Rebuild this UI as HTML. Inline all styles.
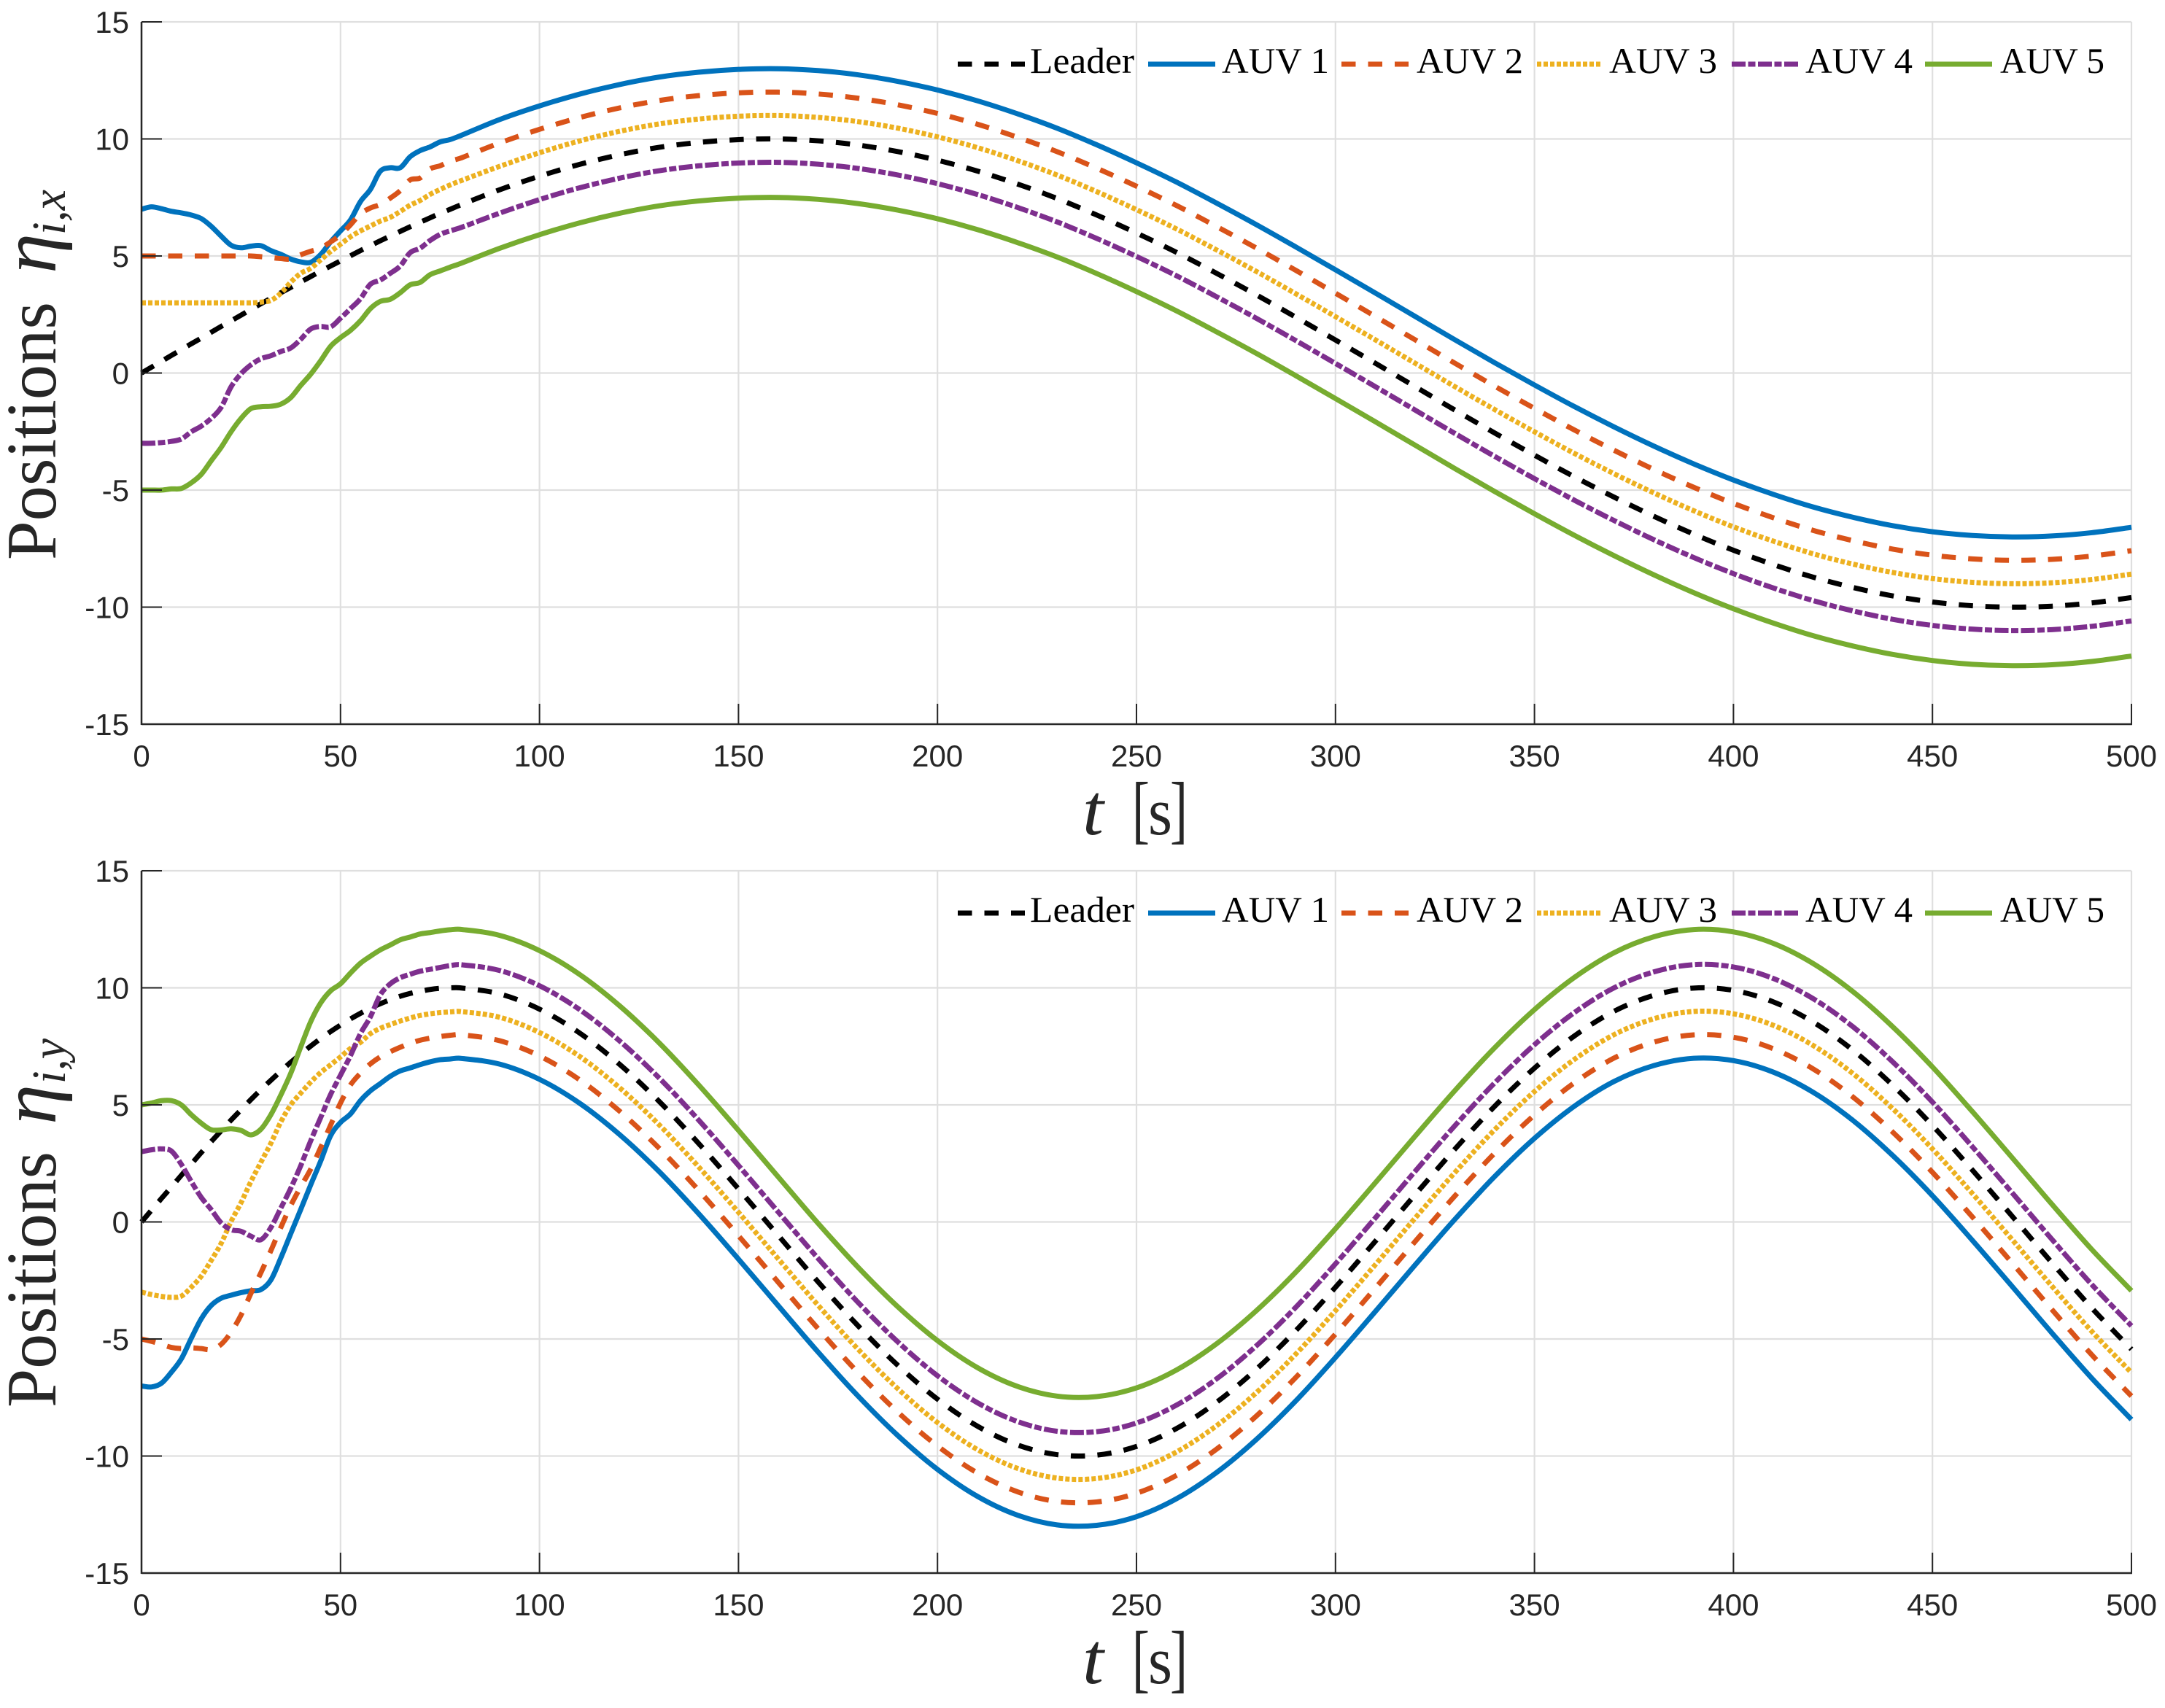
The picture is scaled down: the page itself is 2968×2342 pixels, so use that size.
<!DOCTYPE html>
<html lang="en">
<head>
<meta charset="utf-8">
<title>Positions of leader and AUVs</title>
<style>
html,body{margin:0;padding:0;background:#fff;width:2968px;height:2342px;overflow:hidden}
svg{display:block}
.tick{font-family:"Liberation Sans",sans-serif;font-size:42px;fill:#262626}
.serif{font-family:"Liberation Serif",serif;fill:#262626}
.legend-text{font-family:"Liberation Serif",serif;font-size:50px;fill:#000}
</style>
</head>
<body>
<svg id="chart" xmlns="http://www.w3.org/2000/svg" width="2968" height="2342" viewBox="0 0 2968 2342">
  <rect width="2968" height="2342" fill="#fff"/>
  <g id="panel-x"></g>
  <g id="panel-y"></g>

  <g transform="translate(76,768) rotate(-90)">
    <text class="serif" font-size="98" x="0" y="0" textLength="354" lengthAdjust="spacingAndGlyphs">Positions</text>
    <text class="serif" font-size="108" font-style="italic" x="393" y="0" textLength="55" lengthAdjust="spacingAndGlyphs">η</text>
    <text class="serif" font-size="66" font-style="italic" x="446" y="13" textLength="62" lengthAdjust="spacingAndGlyphs">i,x</text>
  </g>
  <g>
    <text class="serif" font-size="100" font-style="italic" x="1484" y="1144" textLength="29" lengthAdjust="spacingAndGlyphs">t</text>
    <text class="serif" font-size="104" x="1552" y="1144" textLength="24" lengthAdjust="spacingAndGlyphs">[</text>
    <text class="serif" font-size="92" x="1574" y="1144" textLength="33" lengthAdjust="spacingAndGlyphs">s</text>
    <text class="serif" font-size="104" x="1604" y="1144" textLength="24" lengthAdjust="spacingAndGlyphs">]</text>
  </g>

  <g transform="translate(76,1930) rotate(-90)">
    <text class="serif" font-size="98" x="0" y="0" textLength="351" lengthAdjust="spacingAndGlyphs">Positions</text>
    <text class="serif" font-size="108" font-style="italic" x="388" y="0" textLength="55" lengthAdjust="spacingAndGlyphs">η</text>
    <text class="serif" font-size="66" font-style="italic" x="444" y="13" textLength="62" lengthAdjust="spacingAndGlyphs">i,y</text>
  </g>
  <g>
    <text class="serif" font-size="100" font-style="italic" x="1484" y="2308" textLength="29" lengthAdjust="spacingAndGlyphs">t</text>
    <text class="serif" font-size="104" x="1552" y="2308" textLength="24" lengthAdjust="spacingAndGlyphs">[</text>
    <text class="serif" font-size="92" x="1574" y="2308" textLength="33" lengthAdjust="spacingAndGlyphs">s</text>
    <text class="serif" font-size="104" x="1604" y="2308" textLength="24" lengthAdjust="spacingAndGlyphs">]</text>
  </g>
</svg>
<script>
const xTickLabels = [0,50,100,150,200,250,300,350,400,450,500];
const yTickLabels = [15,10,5,0,-5,-10,-15];
const seriesNames = ["Leader","AUV 1","AUV 2","AUV 3","AUV 4","AUV 5"];

const times = [0,2.5,5,7.5,10,12.5,15,17.5,20,22.5,25,27.5,30,32.5,35,37.5,40,42.5,45,47.5,50,52.5,55,57.5,60,62.5,65,67.5,70,72.5,75,77.5,80,
90,100,110,120,130,140,150,160,170,180,190,200,210,220,230,240,250,260,270,280,290,300,310,320,330,340,350,360,370,380,390,400,410,420,430,440,450,460,470,480,490,500];

const xLeader = [0,0.25,0.5,0.75,1,1.25,1.49,1.74,1.99,2.23,2.47,2.72,2.96,3.19,3.43,3.66,3.89,4.12,4.35,4.57,4.79,5.01,5.23,5.44,5.65,5.85,6.05,6.25,6.44,6.63,6.82,6.99,7.17,
7.83,8.41,8.91,9.32,9.64,9.85,9.97,10,9.92,9.74,9.46,9.09,8.63,8.08,7.46,6.75,5.98,5.16,4.27,3.35,2.39,1.41,0.42,-0.58,-1.58,-2.56,-3.51,-4.43,-5.3,-6.12,-6.88,-7.57,-8.18,-8.72,-9.16,-9.52,-9.78,-9.94,-10,-9.96,-9.82,-9.59];
const xAuv1 = [7,7.1,7.02,6.91,6.84,6.75,6.6,6.27,5.85,5.46,5.35,5.42,5.44,5.23,5.07,4.87,4.75,4.73,5.06,5.6,6.07,6.54,7.32,7.84,8.62,8.77,8.77,9.24,9.5,9.66,9.87,9.97,10.13,
10.83,11.41,11.91,12.32,12.64,12.85,12.97,13,12.92,12.74,12.46,12.09,11.63,11.08,10.46,9.75,8.98,8.16,7.27,6.35,5.39,4.41,3.42,2.42,1.42,0.44,-0.51,-1.43,-2.3,-3.12,-3.88,-4.57,-5.18,-5.72,-6.16,-6.52,-6.78,-6.94,-7,-6.96,-6.82,-6.59];
const xAuv2 = [5,5,5,5,5,5,5,5,5,5,5,5,4.97,4.93,4.89,4.87,5.05,5.2,5.33,5.6,5.9,6.33,6.8,7.05,7.2,7.47,7.79,8.25,8.33,8.72,8.85,9.05,9.17,
9.83,10.41,10.91,11.32,11.64,11.85,11.97,12,11.92,11.74,11.46,11.09,10.63,10.08,9.46,8.75,7.98,7.16,6.27,5.35,4.39,3.41,2.42,1.42,0.42,-0.56,-1.51,-2.43,-3.3,-4.12,-4.88,-5.57,-6.18,-6.72,-7.16,-7.52,-7.78,-7.94,-8,-7.96,-7.82,-7.59];
const xAuv3 = [3,3,3,3,3,3,3,3,3,3,3,3,3.03,3.1,3.41,3.88,4.26,4.47,4.83,5.19,5.5,5.82,6.07,6.28,6.49,6.65,6.9,7.17,7.37,7.63,7.84,8.03,8.2,
8.83,9.41,9.91,10.32,10.64,10.85,10.97,11,10.92,10.74,10.46,10.09,9.63,9.08,8.46,7.75,6.98,6.16,5.27,4.35,3.39,2.41,1.42,0.42,-0.58,-1.56,-2.51,-3.43,-4.3,-5.12,-5.88,-6.57,-7.18,-7.72,-8.16,-8.52,-8.78,-8.94,-9,-8.96,-8.82,-8.59];
const xAuv4 = [-3,-3,-2.97,-2.92,-2.82,-2.51,-2.27,-1.94,-1.47,-0.59,-0.03,0.35,0.61,0.74,0.92,1.07,1.44,1.88,1.99,1.97,2.34,2.75,3.17,3.79,3.97,4.26,4.57,5.14,5.33,5.66,5.92,6.07,6.2,
6.83,7.41,7.91,8.32,8.64,8.85,8.97,9,8.92,8.74,8.46,8.09,7.63,7.08,6.46,5.75,4.98,4.16,3.27,2.35,1.39,0.41,-0.58,-1.58,-2.58,-3.56,-4.51,-5.43,-6.3,-7.12,-7.88,-8.57,-9.18,-9.72,-10.16,-10.52,-10.78,-10.94,-11,-10.96,-10.82,-10.59];
const xAuv5 = [-5,-5,-5,-4.95,-4.93,-4.69,-4.33,-3.75,-3.18,-2.51,-1.94,-1.52,-1.44,-1.42,-1.33,-1.05,-0.53,-0.05,0.52,1.14,1.51,1.82,2.23,2.75,3.06,3.15,3.43,3.77,3.87,4.2,4.36,4.52,4.67,
5.33,5.91,6.41,6.82,7.14,7.35,7.47,7.5,7.42,7.24,6.96,6.59,6.13,5.58,4.96,4.25,3.48,2.66,1.77,0.85,-0.11,-1.09,-2.08,-3.08,-4.08,-5.06,-6.01,-6.93,-7.8,-8.62,-9.38,-10.07,-10.68,-11.22,-11.66,-12.02,-12.28,-12.44,-12.5,-12.46,-12.32,-12.09];

const yLeader = [0,0.5,1,1.49,1.99,2.47,2.96,3.43,3.89,4.35,4.79,5.23,5.65,6.05,6.44,6.82,7.17,7.51,7.83,8.13,8.41,8.67,8.91,9.13,9.32,9.49,9.64,9.76,9.85,9.93,9.98,10,10,
9.74,9.09,8.08,6.75,5.16,3.35,1.41,-0.58,-2.56,-4.43,-6.12,-7.57,-8.72,-9.52,-9.94,-9.96,-9.59,-8.83,-7.72,-6.31,-4.65,-2.79,-0.83,1.16,3.11,4.94,6.57,7.94,9,9.68,9.99,9.89,9.4,8.54,7.34,5.84,4.12,2.22,0.25,-1.74,-3.67,-5.44];
const yAuv1 = [-7.01,-7.05,-6.89,-6.42,-5.85,-4.97,-4.14,-3.57,-3.26,-3.13,-3.02,-2.94,-2.89,-2.48,-1.54,-0.5,0.53,1.58,2.59,3.68,4.25,4.61,5.18,5.6,5.91,6.22,6.45,6.58,6.72,6.84,6.93,6.96,6.99,
6.74,6.09,5.08,3.75,2.16,0.35,-1.59,-3.58,-5.56,-7.43,-9.12,-10.57,-11.72,-12.52,-12.94,-12.96,-12.59,-11.83,-10.72,-9.31,-7.65,-5.79,-3.83,-1.84,0.11,1.94,3.57,4.94,6,6.68,6.99,6.89,6.4,5.54,4.34,2.84,1.12,-0.78,-2.75,-4.74,-6.67,-8.44];
const yAuv2 = [-5,-5.1,-5.23,-5.36,-5.41,-5.38,-5.41,-5.45,-5.23,-4.71,-3.98,-3.05,-2.17,-1.23,-0.24,0.7,1.5,2.25,3.17,4.13,5.08,5.85,6.35,6.75,7.05,7.27,7.46,7.63,7.76,7.85,7.92,7.97,8,
7.74,7.09,6.08,4.75,3.16,1.35,-0.59,-2.58,-4.56,-6.43,-8.12,-9.57,-10.72,-11.52,-11.94,-11.96,-11.59,-10.83,-9.72,-8.31,-6.65,-4.79,-2.83,-0.84,1.11,2.94,4.57,5.94,7,7.68,7.99,7.89,7.4,6.54,5.34,3.84,2.12,0.22,-1.75,-3.74,-5.67,-7.44];
const yAuv3 = [-3,-3.1,-3.18,-3.22,-3.17,-2.79,-2.32,-1.65,-0.92,0.02,0.82,1.73,2.55,3.36,4.27,5,5.5,5.97,6.38,6.71,7.05,7.41,7.67,8.04,8.27,8.43,8.58,8.71,8.82,8.89,8.94,8.97,8.99,
8.74,8.09,7.08,5.75,4.16,2.35,0.41,-1.58,-3.56,-5.43,-7.12,-8.57,-9.72,-10.52,-10.94,-10.96,-10.59,-9.83,-8.72,-7.31,-5.65,-3.79,-1.83,0.16,2.11,3.94,5.57,6.94,8,8.68,8.99,8.89,8.4,7.54,6.34,4.84,3.12,1.22,-0.75,-2.74,-4.67,-6.44];
const yAuv4 = [3,3.08,3.12,3.03,2.46,1.73,1.05,0.53,-0.04,-0.33,-0.4,-0.61,-0.76,-0.24,0.59,1.44,2.4,3.46,4.45,5.44,6.27,7.1,8.04,8.76,9.7,10.17,10.43,10.58,10.71,10.79,10.87,10.95,10.99,
10.74,10.09,9.08,7.75,6.16,4.35,2.41,0.42,-1.56,-3.43,-5.12,-6.57,-7.72,-8.52,-8.94,-8.96,-8.59,-7.83,-6.72,-5.31,-3.65,-1.79,0.17,2.16,4.11,5.94,7.57,8.94,10,10.68,10.99,10.89,10.4,9.54,8.34,6.84,5.12,3.22,1.25,-0.74,-2.67,-4.44];
const yAuv5 = [5,5.08,5.18,5.18,5,4.58,4.22,3.94,3.93,3.98,3.91,3.72,3.96,4.58,5.42,6.35,7.47,8.55,9.35,9.87,10.17,10.63,11.05,11.35,11.62,11.83,12.05,12.17,12.3,12.36,12.43,12.48,12.5,
12.24,11.59,10.58,9.25,7.66,5.85,3.91,1.92,-0.06,-1.93,-3.62,-5.07,-6.22,-7.02,-7.44,-7.46,-7.09,-6.33,-5.22,-3.81,-2.15,-0.29,1.67,3.66,5.61,7.44,9.07,10.44,11.5,12.18,12.49,12.39,11.9,11.04,9.84,8.34,6.62,4.72,2.75,0.76,-1.17,-2.94];

const NS = "http://www.w3.org/2000/svg";
const seriesStyles = [
  {color:"#000000", dash:"19.5 17"},
  {color:"#0072BD", dash:"none"},
  {color:"#D95319", dash:"19.5 17"},
  {color:"#EDB120", dash:"6 3"},
  {color:"#7E2F8E", dash:"19 3.5 10 3.5"},
  {color:"#77AC30", dash:"none"}
];
const legendLineX = [[1313,1405],[1574,1666],[1839,1931],[2107,2194],[2374,2466],[2639,2731]];
const legendTextX = [[1412,143],[1675,147],[1942,146],[2206,148],[2475,147],[2742,143]];
const PLOT_LEFT = 194, PLOT_RIGHT = 2922, PLOT_H = 963;

function make(parent, tag, attrs, text) {
  const node = document.createElementNS(NS, tag);
  for (const k in attrs) node.setAttribute(k, attrs[k]);
  if (text !== undefined) node.textContent = text;
  parent.appendChild(node);
  return node;
}

function smoothPath(ts, vs, sx, sy) {
  const n = ts.length, px = ts.map(sx), py = vs.map(sy), m = [];
  for (let i = 0; i < n; i++) {
    const a = Math.max(i - 1, 0), b = Math.min(i + 1, n - 1);
    m.push((py[b] - py[a]) / (px[b] - px[a]));
  }
  let d = "M" + px[0].toFixed(2) + " " + py[0].toFixed(2);
  for (let i = 0; i < n - 1; i++) {
    const h = (px[i + 1] - px[i]) / 3;
    d += "C" + (px[i] + h).toFixed(2) + " " + (py[i] + m[i] * h).toFixed(2) + " " +
      (px[i + 1] - h).toFixed(2) + " " + (py[i + 1] - m[i + 1] * h).toFixed(2) + " " +
      px[i + 1].toFixed(2) + " " + py[i + 1].toFixed(2);
  }
  return d;
}

function drawPanel(panelId, top, seriesList, suffix) {
  const g = document.getElementById(panelId);
  const bottom = top + PLOT_H;
  const sx = t => PLOT_LEFT + (t - 0) / 500 * (PLOT_RIGHT - PLOT_LEFT);
  const sy = v => top + (15 - v) / 30 * PLOT_H;

  xTickLabels.forEach(v => {
    const el = make(g, "line", {x1:sx(v), x2:sx(v), y1:top, y2:bottom, stroke:"#dfdfdf", "stroke-width":2.2});
    
    
  });
  yTickLabels.forEach(v => {
    const el = make(g, "line", {x1:PLOT_LEFT, x2:PLOT_RIGHT, y1:sy(v), y2:sy(v), stroke:"#dfdfdf", "stroke-width":2.2});
    
    
  });

  seriesList.forEach((vals, i) => {
    const st = seriesStyles[i];
    const attrs = {d:smoothPath(times, vals, sx, sy), fill:"none", stroke:st.color, "stroke-width":7, "stroke-linejoin":"round"};
    if (st.dash !== "none") attrs["stroke-dasharray"] = st.dash;
    const el = make(g, "path", attrs);
    
    
  });

  xTickLabels.forEach(v => {
    const tk = make(g, "line", {x1:sx(v), x2:sx(v), y1:bottom, y2:bottom - 28, stroke:"#262626", "stroke-width":2});
    
    
    const lb = make(g, "text", {class:"tick", x:sx(v), y:bottom + 58, "text-anchor":"middle"}, String(v));
    
    
  });
  yTickLabels.forEach(v => {
    const tk = make(g, "line", {x1:PLOT_LEFT, x2:PLOT_LEFT + 28, y1:sy(v), y2:sy(v), stroke:"#262626", "stroke-width":2});
    
    
    const lb = make(g, "text", {class:"tick", x:177, y:sy(v) + 15, "text-anchor":"end"}, String(v));
    
    
  });

  const leftAxis = make(g, "line", {x1:PLOT_LEFT, x2:PLOT_LEFT, y1:top, y2:bottom + 1, stroke:"#262626", "stroke-width":2.5});
  
  
  const bottomAxis = make(g, "line", {x1:PLOT_LEFT, x2:PLOT_RIGHT + 1, y1:bottom, y2:bottom, stroke:"#262626", "stroke-width":2.5});
  
  

  const legend = make(g, "g", {});
  
  
  seriesNames.forEach((name, i) => {
    const st = seriesStyles[i];
    const attrs = {x1:legendLineX[i][0], x2:legendLineX[i][1], y1:top + 58, y2:top + 58, stroke:st.color, "stroke-width":7};
    if (st.dash !== "none") attrs["stroke-dasharray"] = st.dash;
    const sample = make(legend, "line", attrs);
    
    
    const label = make(legend, "text", {class:"legend-text", x:legendTextX[i][0], y:top + 70, textLength:legendTextX[i][1], lengthAdjust:"spacingAndGlyphs"}, name);
    
    
  });
}

drawPanel("panel-x", 30, [xLeader, xAuv1, xAuv2, xAuv3, xAuv4, xAuv5], "-x");
drawPanel("panel-y", 1194, [yLeader, yAuv1, yAuv2, yAuv3, yAuv4, yAuv5], "-y");
</script>
</body>
</html>
